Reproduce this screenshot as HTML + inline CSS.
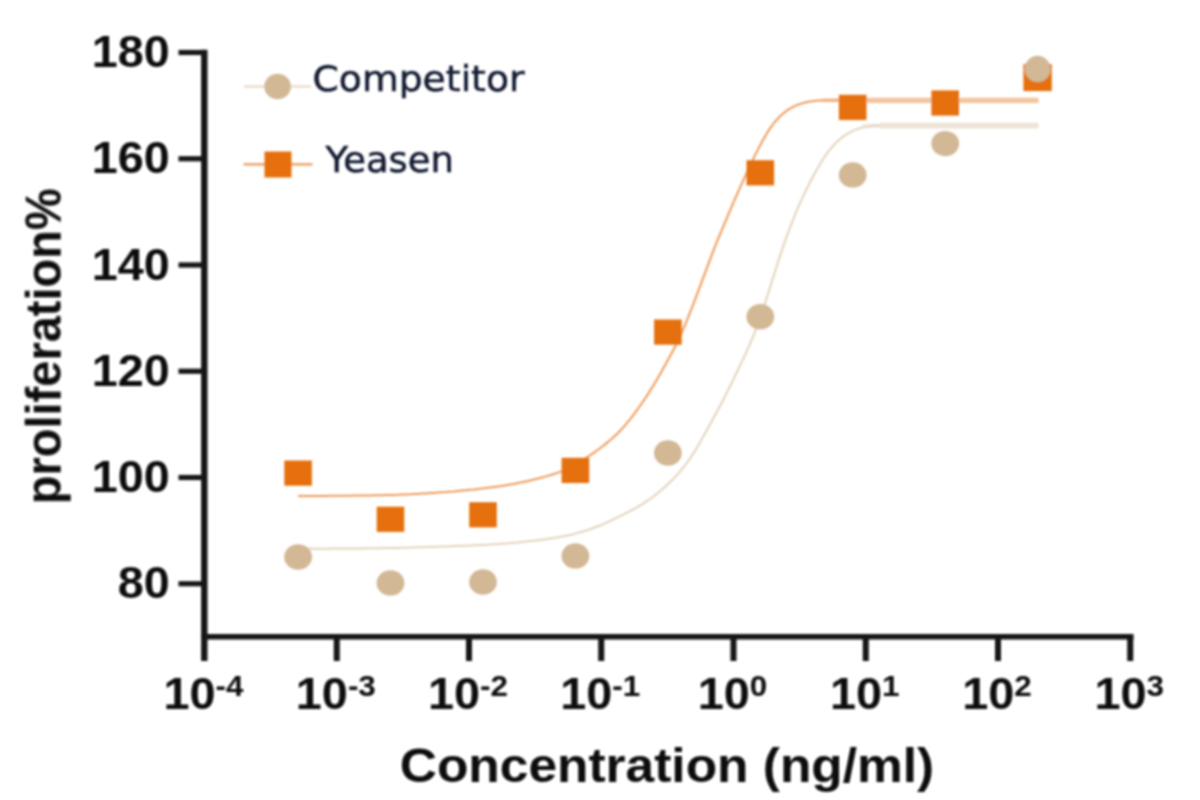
<!DOCTYPE html>
<html lang="en"><head><meta charset="utf-8"><title>Proliferation vs Concentration</title>
<style>html,body{margin:0;padding:0;background:#fff;overflow:hidden}svg{display:block}.ax{font-family:"Liberation Sans",Arial,sans-serif;font-weight:700;fill:#0b0b0b}.lg{font-family:"DejaVu Sans","Liberation Sans",sans-serif;fill:#131a30;stroke:#131a30;stroke-width:0.5px}</style></head><body>
<svg width="1200" height="800" viewBox="0 0 1200 800">
<defs><filter id="soft" filterUnits="userSpaceOnUse" x="0" y="0" width="1200" height="800"><feGaussianBlur stdDeviation="1.15"/></filter></defs>
<rect width="1200" height="800" fill="#fff"/>
<g filter="url(#soft)">
<g fill="none" stroke-linecap="butt" stroke-linejoin="round">
<path d="M298.0,548.8 L302.0,548.8 L306.0,548.8 L310.0,548.8 L314.0,548.8 L318.0,548.7 L322.0,548.7 L326.0,548.7 L330.0,548.7 L334.0,548.6 L338.0,548.6 L342.0,548.6 L346.0,548.5 L350.0,548.5 L354.0,548.5 L358.0,548.4 L362.0,548.4 L366.0,548.3 L370.0,548.3 L374.0,548.2 L378.0,548.2 L382.0,548.1 L386.0,548.1 L390.0,548.0 L394.0,547.9 L398.0,547.9 L402.0,547.8 L406.0,547.7 L410.0,547.6 L414.0,547.4 L418.0,547.3 L422.0,547.2 L426.0,547.1 L430.0,546.9 L434.0,546.8 L438.0,546.7 L442.0,546.5 L446.0,546.4 L450.0,546.3 L454.0,546.1 L458.0,546.0 L462.0,545.8 L466.0,545.7 L470.0,545.5 L474.0,545.3 L478.0,545.1 L482.0,544.9 L486.0,544.7 L490.0,544.5 L494.0,544.2 L498.0,544.0 L502.0,543.7 L506.0,543.4 L510.0,543.1 L514.0,542.7 L518.0,542.4 L522.0,542.0 L526.0,541.6 L530.0,541.1 L534.0,540.7 L538.0,540.2 L542.0,539.7 L546.0,539.2 L550.0,538.6 L554.0,538.0 L558.0,537.3 L562.0,536.6 L566.0,535.8 L570.0,534.9 L574.0,534.0 L578.0,532.9 L582.0,531.8 L586.0,530.5 L590.0,529.2 L594.0,527.8 L598.0,526.3 L602.0,524.7 L606.0,522.9 L610.0,521.1 L614.0,519.2 L618.0,517.2 L622.0,515.2 L626.0,513.2 L630.0,511.1 L634.0,509.0 L638.0,506.7 L642.0,504.3 L646.0,501.7 L650.0,499.0 L654.0,496.0 L658.0,492.9 L662.0,489.6 L666.0,486.0 L670.0,482.3 L674.0,478.3 L678.0,473.9 L682.0,469.1 L686.0,464.0 L690.0,458.5 L694.0,452.4 L698.0,445.8 L702.0,438.8 L706.0,431.6 L710.0,424.4 L714.0,417.1 L718.0,409.8 L722.0,402.2 L726.0,394.4 L730.0,386.3 L734.0,378.1 L738.0,369.8 L742.0,361.4 L746.0,352.8 L750.0,343.9 L754.0,334.3 L758.0,323.7 L762.0,312.2 L766.0,300.2 L770.0,287.6 L774.0,274.8 L778.0,262.1 L782.0,249.9 L786.0,238.4 L790.0,227.7 L794.0,217.4 L798.0,207.7 L802.0,198.6 L806.0,190.2 L810.0,182.3 L814.0,174.7 L818.0,167.4 L822.0,160.7 L826.0,154.7 L830.0,149.5 L834.0,144.9 L838.0,140.8 L842.0,137.4 L846.0,134.6 L850.0,132.3 L854.0,130.4 L858.0,128.9 L862.0,127.7 L866.0,126.8 L870.0,126.2 L874.0,125.9" stroke="#E3D2BC" stroke-width="2"/>
<path d="M862,126.6 L874,125.8 L888,125.6" stroke="#E9DCCB" stroke-width="3.4"/>
<path d="M880,125.6 L1038.5,125.6" stroke="#EEE4D7" stroke-width="5.6"/>
<path d="M298.0,496.0 L302.0,496.0 L306.0,496.0 L310.0,496.0 L314.0,495.9 L318.0,495.9 L322.0,495.9 L326.0,495.9 L330.0,495.8 L334.0,495.8 L338.0,495.8 L342.0,495.7 L346.0,495.7 L350.0,495.7 L354.0,495.6 L358.0,495.6 L362.0,495.5 L366.0,495.4 L370.0,495.4 L374.0,495.3 L378.0,495.2 L382.0,495.2 L386.0,495.1 L390.0,495.0 L394.0,494.9 L398.0,494.8 L402.0,494.6 L406.0,494.4 L410.0,494.3 L414.0,494.1 L418.0,493.9 L422.0,493.6 L426.0,493.4 L430.0,493.1 L434.0,492.9 L438.0,492.6 L442.0,492.3 L446.0,492.1 L450.0,491.7 L454.0,491.4 L458.0,491.0 L462.0,490.6 L466.0,490.2 L470.0,489.8 L474.0,489.4 L478.0,488.9 L482.0,488.5 L486.0,488.0 L490.0,487.5 L494.0,487.0 L498.0,486.4 L502.0,485.9 L506.0,485.2 L510.0,484.6 L514.0,483.9 L518.0,483.1 L522.0,482.3 L526.0,481.4 L530.0,480.5 L534.0,479.5 L538.0,478.5 L542.0,477.5 L546.0,476.4 L550.0,475.2 L554.0,474.0 L558.0,472.6 L562.0,471.1 L566.0,469.3 L570.0,467.3 L574.0,465.1 L578.0,462.8 L582.0,460.4 L586.0,457.9 L590.0,455.4 L594.0,452.6 L598.0,449.8 L602.0,446.8 L606.0,443.6 L610.0,440.3 L614.0,436.8 L618.0,433.0 L622.0,428.8 L626.0,424.2 L630.0,419.3 L634.0,414.1 L638.0,408.7 L642.0,403.0 L646.0,397.1 L650.0,390.9 L654.0,384.4 L658.0,377.7 L662.0,370.7 L666.0,363.6 L670.0,356.3 L674.0,348.8 L678.0,340.8 L682.0,332.0 L686.0,322.6 L690.0,312.7 L694.0,302.4 L698.0,291.8 L702.0,281.1 L706.0,270.3 L710.0,259.6 L714.0,249.2 L718.0,239.2 L722.0,229.6 L726.0,220.1 L730.0,210.6 L734.0,201.2 L738.0,192.1 L742.0,183.1 L746.0,174.4 L750.0,165.8 L754.0,157.4 L758.0,149.4 L762.0,141.8 L766.0,134.7 L770.0,128.4 L774.0,123.0 L778.0,118.3 L782.0,114.5 L786.0,111.2 L790.0,108.6 L794.0,106.4 L798.0,104.7 L802.0,103.4 L806.0,102.3 L810.0,101.6 L814.0,101.0 L818.0,100.6 L822.0,100.4 L826.0,100.2 L830.0,100.1 L834.0,100.1 L838.0,100.0 L842.0,100.0 L846.0,100.0 L850.0,100.0 L854.0,100.0 L858.0,100.0 L862.0,100.0" stroke="#EE9A58" stroke-width="2"/>
<path d="M822,100.4 L838,100.2 L860,100.3" stroke="#F1B281" stroke-width="3.4"/>
<path d="M858,100.4 L1038.5,100.4" stroke="#F4C49C" stroke-width="5.4"/>
</g>
<g fill="#E5700F">
<rect x="284.3" y="460.5" width="27.6" height="25.2"/>
<rect x="376.7" y="506.7" width="27.6" height="25.2"/>
<rect x="469.2" y="502.2" width="27.6" height="25.2"/>
<rect x="561.6" y="457.8" width="27.6" height="25.2"/>
<rect x="654.1" y="319.5" width="27.6" height="25.2"/>
<rect x="746.5" y="160.2" width="27.6" height="25.2"/>
<rect x="838.9" y="94.8" width="27.6" height="25.2"/>
<rect x="931.4" y="90.4" width="27.6" height="25.2"/>
<rect x="1023.4" y="64.1" width="28.4" height="27.0"/>
</g>
<g fill="#D2B894">
<ellipse cx="298.1" cy="557.0" rx="13.9" ry="12.7"/>
<ellipse cx="390.5" cy="582.9" rx="13.9" ry="12.7"/>
<ellipse cx="483.0" cy="582.0" rx="13.9" ry="12.7"/>
<ellipse cx="575.4" cy="555.9" rx="13.9" ry="12.7"/>
<ellipse cx="667.9" cy="453.0" rx="13.9" ry="12.7"/>
<ellipse cx="760.3" cy="316.8" rx="13.9" ry="12.7"/>
<ellipse cx="852.7" cy="174.9" rx="13.9" ry="12.7"/>
<ellipse cx="945.2" cy="143.6" rx="13.9" ry="12.7"/>
<ellipse cx="1037.6" cy="68.9" rx="12.9" ry="13.1"/>
</g>
<g stroke="#151515" fill="none">
<line x1="204.3" y1="49.8" x2="204.3" y2="661" stroke-width="6.4"/>
<line x1="201.5" y1="636.8" x2="1133.5" y2="636.8" stroke-width="5.6"/>
<line x1="178.5" y1="52.50" x2="204.5" y2="52.50" stroke-width="5.2"/>
<line x1="178.5" y1="158.75" x2="204.5" y2="158.75" stroke-width="5.2"/>
<line x1="178.5" y1="265.00" x2="204.5" y2="265.00" stroke-width="5.2"/>
<line x1="178.5" y1="371.25" x2="204.5" y2="371.25" stroke-width="5.2"/>
<line x1="178.5" y1="477.50" x2="204.5" y2="477.50" stroke-width="5.2"/>
<line x1="178.5" y1="583.75" x2="204.5" y2="583.75" stroke-width="5.2"/>
<line x1="336.75" y1="636.8" x2="336.75" y2="661" stroke-width="6"/>
<line x1="469.00" y1="636.8" x2="469.00" y2="661" stroke-width="6"/>
<line x1="601.25" y1="636.8" x2="601.25" y2="661" stroke-width="6"/>
<line x1="733.50" y1="636.8" x2="733.50" y2="661" stroke-width="6"/>
<line x1="865.75" y1="636.8" x2="865.75" y2="661" stroke-width="6"/>
<line x1="998.00" y1="636.8" x2="998.00" y2="661" stroke-width="6"/>
<line x1="1130.25" y1="636.8" x2="1130.25" y2="661" stroke-width="6"/>
</g>
<text class="ax" font-size="43.6" text-anchor="end" transform="translate(169.8,67.0) scale(1.072,1)">180</text>
<text class="ax" font-size="43.6" text-anchor="end" transform="translate(169.8,173.2) scale(1.072,1)">160</text>
<text class="ax" font-size="43.6" text-anchor="end" transform="translate(169.8,279.5) scale(1.072,1)">140</text>
<text class="ax" font-size="43.6" text-anchor="end" transform="translate(169.8,385.8) scale(1.072,1)">120</text>
<text class="ax" font-size="43.6" text-anchor="end" transform="translate(169.8,492.0) scale(1.072,1)">100</text>
<text class="ax" font-size="43.6" text-anchor="end" transform="translate(169.8,598.2) scale(1.072,1)">80</text>
<text class="ax" font-size="44" text-anchor="middle" transform="translate(203.5,709) scale(1.065,1)">10<tspan font-size="29.5" dy="-13">-4</tspan></text>
<text class="ax" font-size="44" text-anchor="middle" transform="translate(335.8,709) scale(1.065,1)">10<tspan font-size="29.5" dy="-13">-3</tspan></text>
<text class="ax" font-size="44" text-anchor="middle" transform="translate(468.0,709) scale(1.065,1)">10<tspan font-size="29.5" dy="-13">-2</tspan></text>
<text class="ax" font-size="44" text-anchor="middle" transform="translate(600.2,709) scale(1.065,1)">10<tspan font-size="29.5" dy="-13">-1</tspan></text>
<text class="ax" font-size="44" text-anchor="middle" transform="translate(732.5,709) scale(1.065,1)">10<tspan font-size="29.5" dy="-13">0</tspan></text>
<text class="ax" font-size="44" text-anchor="middle" transform="translate(864.8,709) scale(1.065,1)">10<tspan font-size="29.5" dy="-13">1</tspan></text>
<text class="ax" font-size="44" text-anchor="middle" transform="translate(997.0,709) scale(1.065,1)">10<tspan font-size="29.5" dy="-13">2</tspan></text>
<text class="ax" font-size="44" text-anchor="middle" transform="translate(1129.2,709) scale(1.065,1)">10<tspan font-size="29.5" dy="-13">3</tspan></text>
<text class="ax" font-size="48" text-anchor="middle" transform="translate(667,781.6) scale(1.072,1)">Concentration (ng/ml)</text>
<text class="ax" font-size="47" text-anchor="middle" transform="translate(60.8,346.3) scale(1.07,1) rotate(-90)">proliferation%</text>
<line x1="244" y1="86.4" x2="311" y2="86.4" stroke="#E8D6BE" stroke-width="2"/>
<ellipse cx="277.6" cy="86.6" rx="13.3" ry="12.75" fill="#D2B894"/>
<line x1="243.5" y1="164.3" x2="312.5" y2="164.3" stroke="#EE9A58" stroke-width="2.2"/>
<rect x="264.5" y="151.5" width="27" height="26" fill="#E5700F"/>
<text class="lg" font-size="36" x="312.5" y="90.7" textLength="212" lengthAdjust="spacingAndGlyphs">Competitor</text>
<text class="lg" font-size="36" x="325.5" y="172.3" textLength="128.5" lengthAdjust="spacingAndGlyphs">Yeasen</text>
</g>
</svg></body></html>
